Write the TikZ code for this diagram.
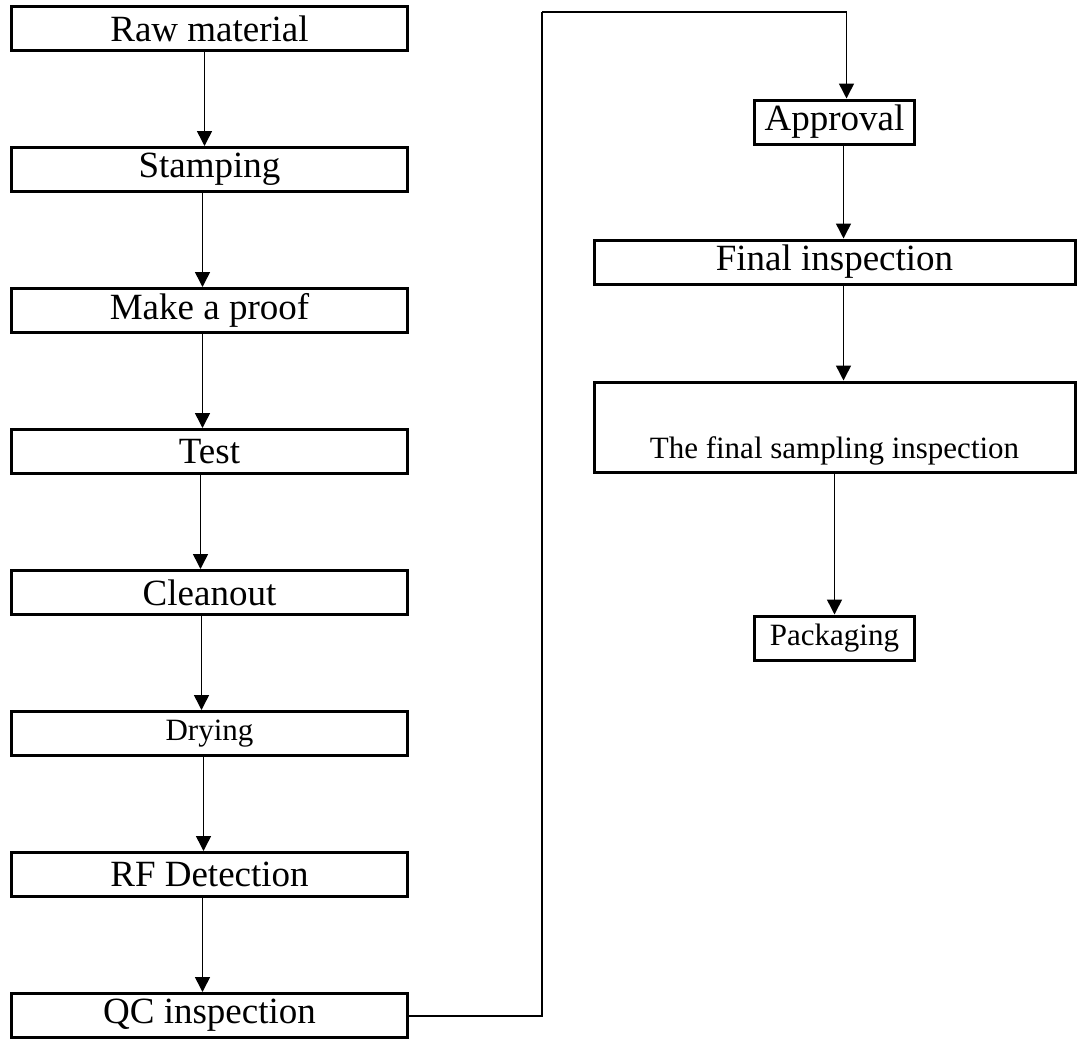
\documentclass[tikz,border=0pt]{standalone}
\usepackage{fontspec}
\setmainfont{Liberation Serif}
\usetikzlibrary{positioning}
\usetikzlibrary{arrows.meta}

\newcommand\boxfont{\fontsize{37}{40}\selectfont}
\newcommand\smallboxfont{\fontsize{31}{34}\selectfont}

\begin{document}
\begin{tikzpicture}[x=1pt,y=-1pt,node distance=94pt,
        stepbox/.style={rectangle, draw=black, line width=3pt, inner sep=0pt,
                        minimum width=396pt, minimum height=44pt, font=\boxfont},
        smallbox/.style={rectangle, draw=black, line width=3pt, inner sep=0pt,
                        minimum width=160pt, minimum height=44pt},
        arr/.style={line width=1.5pt,-{Triangle[length=15pt,width=15pt]}},
        link/.style={line width=2pt}
        ]
        \useasboundingbox (0,0) rectangle (1083,1041);
        % left column
        \node (raw)   [stepbox] at (209.5,28.5) {Raw material};
        \node (stamp) [stepbox, below=of raw]   {Stamping};
        \node (proof) [stepbox, below=of stamp] {Make a proof};
        \node (test)  [stepbox, below=of proof] {Test};
        \node (clean) [stepbox, below=of test]  {Cleanout};
        \node (dry)   [stepbox, below=of clean, font=\smallboxfont] {Drying};
        \node (rf)    [stepbox, below=of dry]   {RF Detection};
        \node (qc)    [stepbox, below=of rf]    {QC inspection};
        % right column
        \node (appr)  [smallbox, font=\boxfont] at (834.5,122) {Approval};
        \node (final) [stepbox, minimum width=481pt, below=93pt of appr] {Final inspection};
        \node (samp)  [stepbox, minimum width=481pt, minimum height=90pt,
                       text height=76pt, text depth=14pt, font=\smallboxfont,
                       below=95pt of final] {The final sampling inspection};
        \node (pack)  [smallbox, font=\smallboxfont, below=141pt of samp] {Packaging};
        \draw[arr] ([xshift=-5pt]raw.south) -- ([xshift=-5pt]stamp.north);
        \draw[arr] ([xshift=-7pt]stamp.south) -- ([xshift=-7pt]proof.north);
        \draw[arr] ([xshift=-7pt]proof.south) -- ([xshift=-7pt]test.north);
        \draw[arr] ([xshift=-9pt]test.south) -- ([xshift=-9pt]clean.north);
        \draw[arr] ([xshift=-8pt]clean.south) -- ([xshift=-8pt]dry.north);
        \draw[arr] ([xshift=-6pt]dry.south) -- ([xshift=-6pt]rf.north);
        \draw[arr] ([xshift=-7pt]rf.south) -- ([xshift=-7pt]qc.north);
        \coordinate (turn) at (542,12);
        \draw[link] (qc.east) -| (turn);
        \draw[link,arr] (turn) -| ([xshift=12pt]appr.north);
        \draw[arr] ([xshift=9pt]appr.south) -- ([xshift=9pt]final.north);
        \draw[arr] ([xshift=9pt]final.south) -- ([xshift=9pt]samp.north);
        \draw[arr] (samp) -- (pack);
    \end{tikzpicture}
\end{document}
